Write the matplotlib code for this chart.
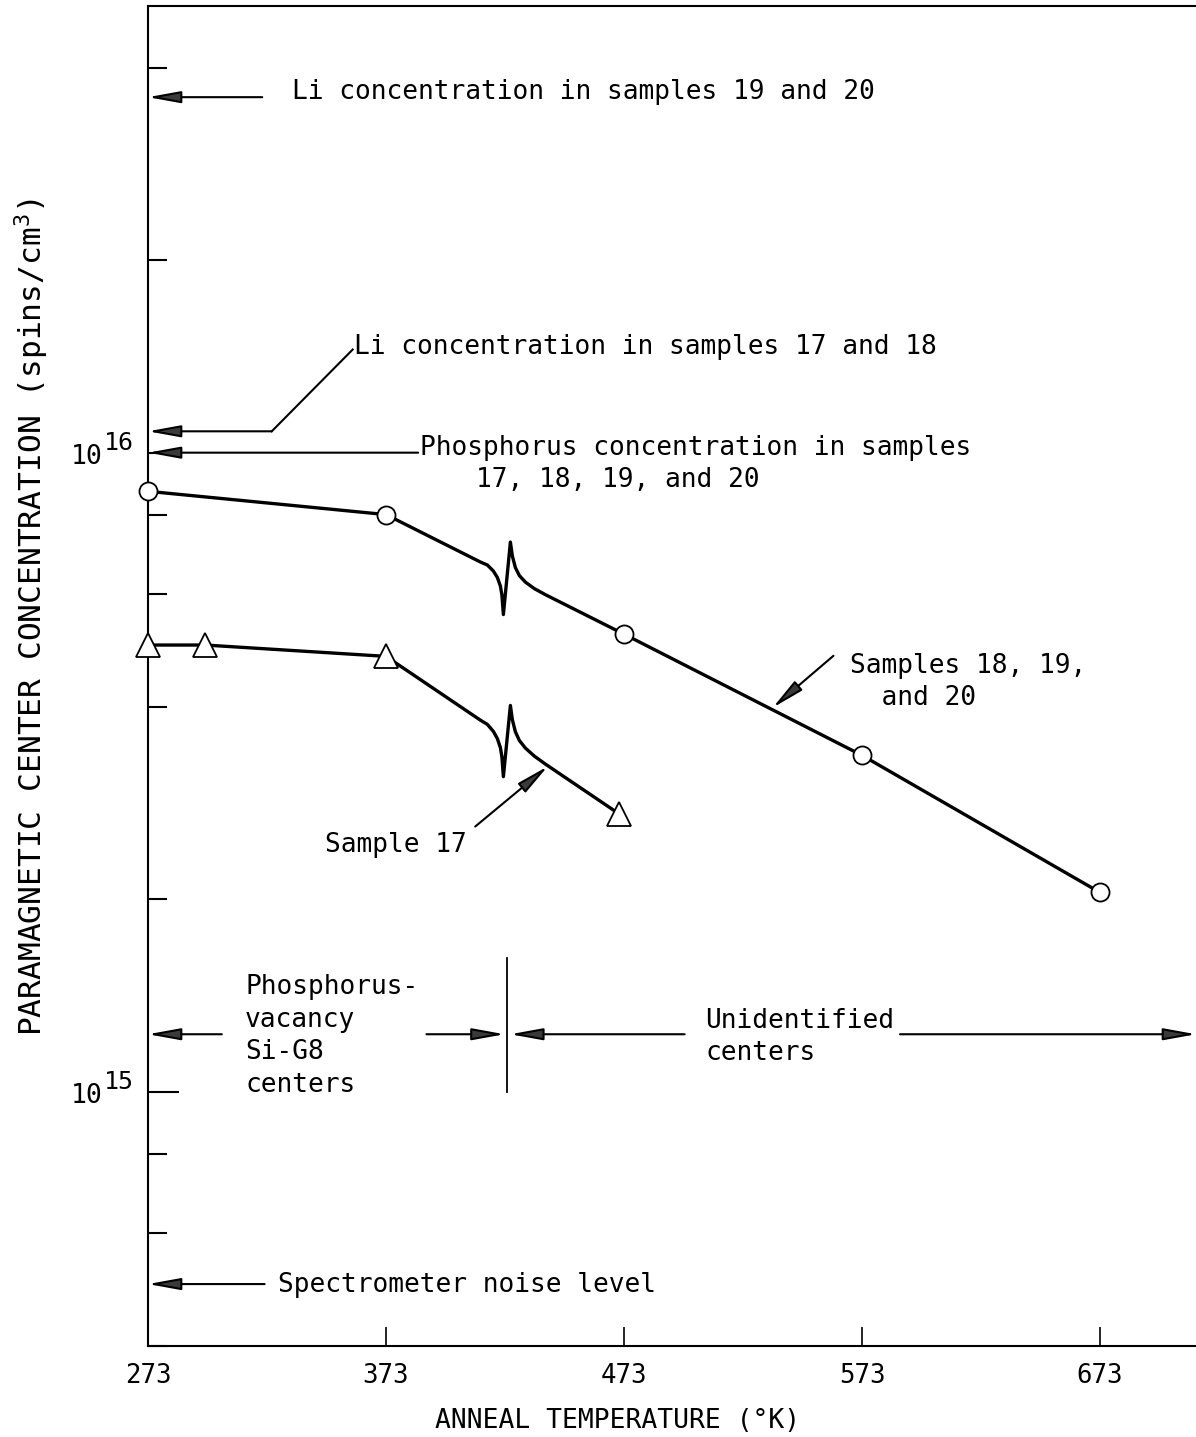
import numpy as np
import matplotlib
matplotlib.use('Agg')
from matplotlib import pyplot as plt
from matplotlib.ticker import FixedLocator, LogLocator, NullFormatter

# ---- data ----
temps_ring = [273, 373, 473, 573, 673]          # samples 18, 19 and 20
conc_ring = [8.7e15, 8.0e15, 5.2e15, 3.36e15, 2.05e15]
temps_tri = [273, 297, 373, 471]                 # sample 17
conc_tri = [5.0e15, 5.0e15, 4.8e15, 2.72e15]

break_temp = 424          # boundary phosphorus-vacancy / unidentified centers

li_19_20 = 3.6e16
li_17_18 = 1.08e16
phos_conc = 1.0e16
center_level = 1.23e15
noise_level = 5.0e14

x_ticks = [273, 373, 473, 573, 673]
y_major = [1e15, 1e16]
y_major_exp = ['15', '16']

# break glyph: (dx px along line, deviation px from line)
GLYPH = [(-27, 0), (-20, 0.5), (-14, -2.5), (-10, -7), (-7, -14), (-5.5, -22), (-4, -41),
         (3, 35), (5, 22), (8, 12), (12, 6), (18, 2.5), (27, 0.5), (38, 0)]

plt.rcParams['font.family'] = ['DejaVu Sans Mono']
plt.rcParams['mathtext.fontset'] = 'custom'
plt.rcParams['mathtext.rm'] = 'DejaVu Sans Mono'
plt.rcParams['mathtext.it'] = 'DejaVu Sans Mono'

W, H = 1196, 1437
fig = plt.figure(figsize=(W / 100, H / 100), dpi=100)
left, right, top, bottom = 148, 1196, 6, 1346
ax = fig.add_axes([left / W, 1 - bottom / H, (right - left) / W, (bottom - top) / H])

ax.set_yscale('log')
ax.set_xlim(273, 273 + (right - left) / 2.38)
ax.set_ylim(4e14, 5e16)

for s in ['left', 'bottom', 'top']:
    ax.spines[s].set_linewidth(1.5)
ax.spines['right'].set_visible(False)

ax.set_xticks(x_ticks)
ax.set_xticklabels([str(t) for t in x_ticks])
ax.tick_params(axis='x', direction='in', length=14, width=1.2, pad=12, labelsize=18.5)
ax.yaxis.set_major_locator(FixedLocator(y_major))
ax.yaxis.set_major_formatter(NullFormatter())
ax.yaxis.set_minor_locator(LogLocator(base=10, subs=(2, 4, 6, 8)))
ax.yaxis.set_minor_formatter(NullFormatter())
ax.tick_params(axis='y', which='major', direction='in', length=22, width=1.5)
ax.tick_params(axis='y', which='minor', direction='in', length=14, width=1.5)

# decade labels written as 10 with a raised exponent
for v, e in zip(y_major, y_major_exp):
    ax.annotate('10', xy=(0, v), xycoords=('axes fraction', 'data'), xytext=(-33, -3),
                textcoords='offset points', ha='right', va='center', fontsize=19,
                annotation_clip=False)
    ax.annotate(e, xy=(0, v), xycoords=('axes fraction', 'data'), xytext=(-32, 7),
                textcoords='offset points', ha='left', va='center', fontsize=18,
                annotation_clip=False)

ax.set_xlabel('ANNEAL TEMPERATURE (°K)', fontsize=19)
ax.xaxis.set_label_coords(0.448, -0.046)
ax.set_ylabel('PARAMAGNETIC CENTER CONCENTRATION (spins/cm$^3$)', fontsize=22.5)
ax.yaxis.set_label_coords(-0.093, 0.544)


def glyph_points(t0, v0, t1, v1, tb):
    p0 = ax.transData.transform((t0, v0))
    p1 = ax.transData.transform((t1, v1))
    slope = (p1[1] - p0[1]) / (p1[0] - p0[0])
    vb = 10 ** np.interp(tb, [t0, t1], np.log10([v0, v1]))
    pb = ax.transData.transform((tb, vb))
    sc = fig.dpi / 100
    pts = [(pb[0] + dx * sc, pb[1] + (slope * dx + dev) * sc) for dx, dev in GLYPH]
    return ax.transData.inverted().transform(pts)


def series_line(temps, conc, i_break):
    g = glyph_points(temps[i_break], conc[i_break], temps[i_break + 1], conc[i_break + 1], break_temp)
    xs = list(temps[:i_break + 1]) + list(g[:, 0]) + list(temps[i_break + 1:])
    ys = list(conc[:i_break + 1]) + list(g[:, 1]) + list(conc[i_break + 1:])
    return xs, ys


xs, ys = series_line(temps_ring, conc_ring, 1)
ax.plot(xs, ys, color='black', lw=2.4, zorder=3)
ax.plot(temps_ring, conc_ring, ls='none', marker='o', ms=13, mfc='white', mec='black', mew=1.3,
        zorder=5, clip_on=False)

xs, ys = series_line(temps_tri, conc_tri, 2)
ax.plot(xs, ys, color='black', lw=2.4, zorder=3)
ax.plot(temps_tri, conc_tri, ls='none', marker='^', ms=17, mfc='white', mec='black', mew=1.3,
        zorder=5, clip_on=False)

AP = dict(arrowstyle='-|>,head_length=1.1,head_width=0.2', lw=1.5, ec='black', fc='#3a3a3a',
          shrinkA=0, shrinkB=0, mutation_scale=18)


def arrow(tail, tip, coords='data'):
    ax.annotate('', xy=tip, xytext=tail, xycoords=coords, textcoords=coords, arrowprops=AP,
                annotation_clip=False)


def fx(px):
    return (px - left) / (right - left)


def fy(py):
    return (bottom - py) / (bottom - top)


TXT = dict(fontsize=18.9, va='center', ha='left', transform=ax.transAxes)

# level arrows onto the concentration axis
arrow((321, li_19_20), (273, li_19_20))
ax.text(fx(292), fy(92), 'Li concentration in samples 19 and 20', **TXT)

arrow((325, li_17_18), (273, li_17_18))
ax.plot([325, 359], [li_17_18, 1.45e16], color='black', lw=1.5)
ax.text(fx(354), fy(347), 'Li concentration in samples 17 and 18', **TXT)

arrow((386.5, phos_conc), (273, phos_conc))
ax.text(fx(420), fy(448), 'Phosphorus concentration in samples', **TXT)
ax.text(fx(476), fy(480), '17, 18, 19, and 20', **TXT)

arrow((304, center_level), (273, center_level))
ax.text(fx(245), fy(1036), 'Phosphorus-\nvacancy\nSi-G8\ncenters', linespacing=1.32, **TXT)

arrow((322, noise_level), (273, noise_level))
ax.text(fx(278), fy(1285), 'Spectrometer noise level', **TXT)

# center type boundary
ax.plot([break_temp, break_temp], [1.0e15, 1.62e15], color='black', lw=1.3)
arrow((390, center_level), (break_temp - 1.2, center_level))
arrow((498.5, center_level), (break_temp + 1.2, center_level))
ax.text(fx(705), fy(1037), 'Unidentified\ncenters', linespacing=1.32, **TXT)
ax.annotate('', xy=(1.0, center_level), xytext=(fx(900), center_level),
            xycoords=('axes fraction', 'data'), textcoords=('axes fraction', 'data'),
            arrowprops=AP, annotation_clip=False)

# series labels
arrow((410.5, 2.6e15), (441, 3.23e15))
ax.text(fx(325), fy(845), 'Sample 17', **TXT)

arrow((561, 4.81e15), (535.5, 3.99e15))
ax.text(fx(850), fy(653), 'Samples 18, 19,\n  and 20', linespacing=1.32, va='top', ha='left',
        fontsize=18.9, transform=ax.transAxes)

fig.savefig('out.png', dpi=100)
